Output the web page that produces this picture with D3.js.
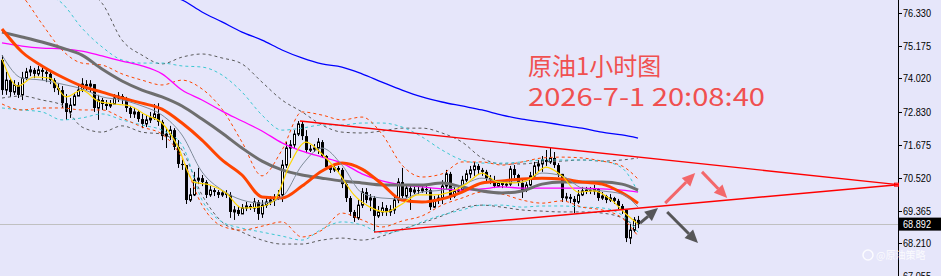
<!DOCTYPE html>
<html lang="zh">
<head>
<meta charset="UTF-8">
<title>原油1小时图</title>
<script src="https://cdnjs.cloudflare.com/ajax/libs/d3/7.8.5/d3.min.js"></script>
<style>
    body {
        margin: 0;
        background: #e6e6fa;
    }

    svg {
        display: block;
    }
</style>
</head>
<body>
<svg id="chart" width="941" height="276"></svg>
<script>
    // hourly candles, open = previous close
    const firstOpen = 74.67;
    const closes = [
        73.61, 73.96, 73.54, 73.79, 73.44, 74.03, 74.25, 74.32, 74.18, 74.32,
        74.25, 74.18, 73.96, 73.68, 73.61, 73.15, 72.84, 73.08, 73.40, 73.61,
        73.82, 73.75, 73.82, 72.98, 73.26, 73.12, 73.05, 73.12, 73.33, 73.40,
        73.33, 72.98, 72.77, 72.84, 72.59, 72.42, 72.56, 72.63, 72.77, 72.49,
        71.99, 72.06, 72.20, 71.61, 71.01, 70.97, 69.74, 69.92, 70.44, 70.51,
        70.37, 69.92, 70.09, 70.02, 69.92, 69.99, 69.92, 69.32, 69.39, 69.25,
        69.46, 69.53, 69.46, 69.67, 69.25, 69.56, 69.67, 69.74, 69.81, 69.92,
        70.97, 71.57, 71.68, 72.06, 72.42, 71.99, 71.50, 71.53, 71.57, 71.78,
        71.29, 70.90, 70.80, 70.87, 70.80, 70.30, 69.81, 69.32, 69.11, 69.56,
        70.02, 69.74, 69.81, 69.18, 69.32, 69.46, 69.32, 69.39, 69.74, 70.37,
        69.88, 70.16, 70.02, 70.09, 70.06, 70.13, 70.09, 69.49, 69.74, 69.81,
        70.23, 70.66, 69.88, 70.06, 70.09, 70.44, 70.66, 70.80, 70.94, 70.80,
        70.73, 70.51, 70.44, 70.23, 70.34, 70.27, 70.30, 70.83, 70.62, 70.34,
        70.09, 70.27, 70.59, 70.94, 71.01, 71.15, 71.08, 71.22, 70.97, 70.66,
        69.81, 69.85, 69.78, 69.67, 69.92, 70.06, 70.09, 70.06, 70.13, 69.81,
        69.88, 69.74, 69.81, 69.71, 69.53, 69.39, 68.40, 68.68, 69.04, 68.89
    ];
    const highs = [
        74.84, 74.25, 74.03, 73.96, 73.89, 74.25, 74.39, 74.46, 74.39, 74.46,
        74.39, 74.32, 74.25, 74.03, 73.86, 73.75, 73.47, 73.33, 73.51, 73.75,
        74.03, 73.96, 73.96, 73.82, 73.44, 73.33, 73.26, 73.26, 73.47, 73.54,
        73.47, 73.37, 73.05, 72.98, 72.91, 72.77, 72.73, 72.84, 73.12, 73.15,
        72.56, 72.27, 72.35, 72.27, 71.85, 71.15, 70.97, 70.16, 70.73, 70.87,
        70.62, 70.44, 70.23, 70.16, 70.09, 70.09, 70.09, 70.02, 69.53, 69.53,
        69.60, 69.67, 69.60, 69.81, 69.74, 69.74, 69.81, 69.88, 69.95, 70.09,
        71.15, 71.78, 71.85, 72.20, 72.52, 72.49, 72.20, 71.68, 71.71, 71.92,
        71.85, 71.32, 70.97, 71.01, 70.94, 70.87, 70.37, 69.88, 69.39, 69.74,
        70.16, 70.16, 69.95, 69.88, 69.53, 69.67, 69.56, 69.56, 69.88, 70.51,
        70.87, 70.30, 70.27, 70.20, 70.20, 70.23, 70.23, 70.16, 69.88, 69.95,
        70.44, 70.80, 70.73, 70.20, 70.23, 70.59, 70.80, 70.94, 71.08, 71.01,
        70.87, 70.80, 70.62, 70.59, 70.44, 70.41, 70.44, 70.94, 70.97, 70.66,
        70.44, 70.37, 70.73, 71.08, 71.15, 71.29, 71.50, 71.57, 71.43, 71.04,
        70.66, 69.99, 69.95, 69.88, 70.09, 70.20, 70.20, 70.20, 70.27, 70.16,
        70.02, 69.92, 69.95, 69.85, 69.78, 69.60, 69.39, 68.90, 69.14, 69.18
    ];
    const lows = [
        73.44, 73.44, 73.37, 73.44, 73.33, 73.26, 73.96, 74.10, 74.03, 74.10,
        73.96, 73.89, 73.82, 73.54, 73.44, 72.98, 72.56, 72.63, 73.05, 73.40,
        73.54, 73.61, 73.54, 72.84, 72.56, 72.91, 72.91, 72.98, 73.12, 73.19,
        73.12, 72.84, 72.63, 72.63, 72.49, 72.27, 72.31, 72.45, 72.56, 72.35,
        71.85, 71.57, 71.85, 71.50, 70.87, 70.80, 69.60, 69.67, 69.88, 70.30,
        70.23, 69.81, 69.85, 69.88, 69.81, 69.85, 69.81, 69.11, 69.04, 69.18,
        69.25, 69.35, 69.39, 69.32, 69.04, 69.11, 69.46, 69.56, 69.53, 69.74,
        69.67, 70.87, 71.22, 71.57, 71.99, 71.85, 71.39, 71.43, 71.43, 71.36,
        71.22, 70.80, 70.69, 70.73, 70.69, 70.16, 69.67, 69.18, 68.97, 69.04,
        69.46, 69.63, 69.35, 68.61, 69.11, 69.18, 69.18, 69.18, 69.25, 69.63,
        69.81, 69.81, 69.39, 69.95, 69.95, 69.99, 69.95, 69.39, 69.46, 69.60,
        69.60, 70.09, 69.74, 69.81, 69.99, 70.02, 70.37, 70.51, 70.59, 70.66,
        70.59, 70.41, 70.30, 70.16, 70.20, 70.16, 70.20, 70.23, 70.51, 70.23,
        69.81, 70.02, 70.23, 70.51, 70.73, 70.73, 70.94, 71.01, 70.87, 70.55,
        69.67, 69.71, 69.63, 69.28, 69.60, 69.88, 69.95, 69.95, 69.92, 69.71,
        69.74, 69.63, 69.67, 69.60, 69.42, 69.25, 68.26, 68.19, 68.61, 68.75
    ];

    // indicator readings, every 5th bar (last one = bar 159)
    const bars5 = [0, 5, 10, 15, 20, 25, 30, 35, 40, 45, 50, 55, 60, 65, 70, 75, 80,
        85, 90, 95, 100, 105, 110, 115, 120, 125, 130, 135, 140, 145, 150, 155, 159];
    const maOrange = [75.76, 74.95, 74.46, 74.07, 73.75, 73.54, 73.33, 73.15, 72.94, 72.45, 71.85,
        71.15, 70.62, 69.85, 69.81, 70.23, 70.76, 71.04, 70.83, 70.30, 69.74, 69.67, 69.78,
        70.02, 70.34, 70.41, 70.48, 70.51, 70.48, 70.37, 70.30, 69.99, 69.63];
    const maGrayThick = [75.65, 75.48, 75.30, 75.09, 74.84, 74.35, 73.93, 73.61, 73.37, 73.05, 72.59,
        72.10, 71.57, 71.11, 70.80, 70.62, 70.51, 70.41, 70.34, 70.27, 70.27, 70.27, 70.34,
        70.20, 70.06, 69.99, 70.06, 70.30, 70.37, 70.37, 70.37, 70.30, 70.09];
    const maMagenta = [75.27, 75.16, 75.09, 75.06, 74.98, 74.81, 74.63, 74.46, 74.18, 73.61, 73.26,
        72.87, 72.52, 72.17, 71.75, 71.46, 71.25, 71.04, 70.66, 70.41, 70.27, 70.20, 70.13,
        70.09, 70.13, 70.20, 70.16, 70.16, 70.16, 70.16, 70.13, 70.09, 70.02];
    const maGrayThin = [74.84, 74.03, 73.96, 73.82, 73.65, 73.37, 73.26, 73.05, 72.73, 72.03, 70.73,
        70.09, 69.74, 69.63, 69.85, 70.97, 71.57, 70.97, 69.99, 69.81, 69.78, 70.02, 70.09,
        70.27, 70.51, 70.37, 70.37, 70.69, 70.59, 70.16, 70.06, 69.95, 69.49];

    const orangeUp = [77.41, 76.92, 75.94, 75.02, 74.56, 74.49, 74.18, 73.96, 73.79, 73.96, 73.65,
        72.94, 71.78, 70.59, 71.50, 72.84, 72.73, 72.56, 72.66, 72.06, 70.97, 70.55, 70.66,
        71.08, 71.08, 70.97, 71.08, 71.22, 71.25, 71.22, 71.11, 70.94, 70.48];
    const orangeDn = [73.12, 72.91, 72.98, 72.98, 72.91, 72.91, 72.63, 72.31, 72.06, 71.22, 69.56,
        68.82, 68.68, 68.82, 68.97, 68.44, 68.68, 69.28, 69.04, 68.79, 69.00, 69.18, 69.56,
        69.81, 70.02, 69.95, 69.74, 69.63, 69.71, 69.49, 69.39, 69.11, 68.47];
    const cyanUp = [78.19, 77.48, 77.06, 76.67, 75.79, 75.13, 74.67, 74.56, 74.56, 74.46, 74.42,
        74.14, 73.54, 72.73, 72.20, 72.27, 72.38, 72.38, 72.45, 72.45, 72.31, 71.96, 71.50,
        71.15, 71.04, 71.04, 71.08, 71.15, 71.15, 71.15, 71.11, 70.87, 70.02];
    const cyanDn = [72.98, 72.91, 72.84, 72.56, 72.63, 72.77, 72.56, 72.38, 72.20, 71.68, 69.74,
        68.97, 68.75, 68.61, 68.47, 68.33, 68.72, 68.97, 68.86, 68.58, 68.68, 68.97, 69.21,
        69.39, 69.56, 69.56, 69.49, 69.53, 69.53, 69.49, 69.46, 69.21, 68.61];
    const grayUp = [78.89, 78.19, 77.66, 77.31, 77.13, 76.67, 75.37, 74.84, 74.53, 74.77, 74.88,
        74.74, 74.53, 73.89, 73.26, 72.84, 72.38, 72.13, 72.10, 72.17, 72.27, 72.27, 72.10,
        71.78, 71.22, 71.01, 71.01, 71.08, 71.11, 71.15, 71.11, 71.15, 71.22];
    const grayDn = [73.33, 73.40, 73.26, 73.08, 72.31, 72.13, 72.35, 72.13, 72.06, 71.50, 69.92,
        68.97, 68.61, 68.33, 68.19, 68.19, 68.33, 68.40, 68.33, 68.47, 68.72, 68.93, 69.18,
        69.46, 69.56, 69.49, 69.39, 69.35, 69.32, 69.32, 69.28, 69.11, 68.75];

    // fast average, every 4th bar
    const bars4 = [0, 4, 8, 12, 16, 20, 24, 28, 32, 36, 40, 44, 48, 52, 56, 60, 64, 68, 72, 76,
        80, 84, 88, 92, 96, 100, 104, 108, 112, 116, 120, 124, 128, 132, 136, 140, 144, 148,
        152, 156, 159];
    const maYellow = [74.70, 73.75, 74.07, 74.03, 73.37, 73.61, 73.22, 73.12, 73.05, 72.73, 72.45,
        71.61, 70.37, 70.27, 69.99, 69.46, 69.49, 69.71, 71.01, 71.78, 71.36, 70.73, 69.92,
        69.49, 69.32, 69.60, 69.92, 69.92, 70.02, 70.30, 70.69, 70.37, 70.34, 70.48, 70.90,
        70.59, 70.02, 70.06, 69.78, 69.25, 68.90];

    // long average, from bar 40
    const barsBlue = [40, 45, 50, 55, 60, 65, 70, 75, 80, 85, 90, 95, 100, 105, 110, 115, 120,
        125, 130, 135, 140, 145, 150, 155, 159];
    const maBlue = [76.99, 76.78, 76.36, 76.01, 75.65, 75.37, 75.02, 74.74, 74.53, 74.42, 74.18,
        73.89, 73.61, 73.37, 73.19, 73.05, 72.91, 72.73, 72.59, 72.49, 72.38, 72.27, 72.13,
        72.03, 71.92];

    // triangle (bar, price)
    const lineTop = [[74.5, 72.52], [224, 70.28]];
    const lineBottom = [[93, 68.61], [224, 70.28]];

    // arrows: tail -> tip
    const arrowsGray = [[[159.5, 68.93], [164, 69.46]], [[166.3, 69.32], [174, 68.23]]];
    const arrowsPink = [[[165.8, 69.63], [173.3, 70.69]], [[175, 70.73], [181.3, 69.81]]];

    const tickLabels = ["76.330", "75.175", "74.020", "72.830", "71.675", "70.520", "69.365", "68.210", "67.055"];
    const lastPrice = 68.892;

    const svg = d3.select("#chart");
    const W = 941, H = 276, axisX = 898;

    const x = d3.scaleLinear().domain([0, 159]).range([2, 638]);
    const y = d3.scaleLinear().domain([67.055, 76.330]).range([276.3, 12.8]);

    svg.append("rect").attr("width", W).attr("height", H).attr("fill", "#e6e6fa");

    svg.append("clipPath").attr("id", "plot")
        .append("rect").attr("width", axisX).attr("height", H);

    const plot = svg.append("g").attr("clip-path", "url(#plot)");

    // bid line
    plot.append("line")
        .attr("x1", 0).attr("x2", axisX)
        .attr("y1", Math.round(y(lastPrice)) + 0.5).attr("y2", Math.round(y(lastPrice)) + 0.5)
        .attr("stroke", "#c0c0c0");

    // candles
    const candles = closes.map((c, i) => ({
        i: i, o: i === 0 ? firstOpen : closes[i - 1], c: c, h: highs[i], l: lows[i]
    }));

    const cg = plot.append("g");
    candles.forEach(d => {
        let cx = Math.round(x(d.i));
        cg.append("line")
            .attr("x1", cx + 0.5).attr("x2", cx + 0.5)
            .attr("y1", y(d.h)).attr("y2", y(d.l))
            .attr("stroke", "#000");
        let top = y(Math.max(d.o, d.c));
        let bot = y(Math.min(d.o, d.c));
        if (d.c >= d.o) {
            cg.append("rect")
                .attr("x", cx - 0.5).attr("y", top)
                .attr("width", 2).attr("height", Math.max(bot - top, 1))
                .attr("fill", "#fff").attr("stroke", "#000");
        } else {
            cg.append("rect")
                .attr("x", cx - 1).attr("y", top)
                .attr("width", 3).attr("height", Math.max(bot - top, 1))
                .attr("fill", "#000");
        }
    });

    function drawLine(bars, vals, color, width, dash) {
        let pts = bars.map((b, k) => [b, vals[k]]);
        let gen = d3.line().x(d => x(d[0])).y(d => y(d[1])).curve(d3.curveMonotoneX);
        plot.append("path")
            .attr("d", gen(pts))
            .attr("fill", "none")
            .attr("stroke", color)
            .attr("stroke-width", width)
            .attr("stroke-dasharray", dash || null);
    }

    // envelopes
    drawLine(bars5, grayUp, "#5a5a5a", 1, "3,3");
    drawLine(bars5, grayDn, "#5a5a5a", 1, "3,3");
    drawLine(bars5, cyanUp, "#3cc8d2", 1, "3,3");
    drawLine(bars5, cyanDn, "#3cc8d2", 1, "3,3");
    drawLine(bars5, orangeUp, "#ff4500", 1, "3,3");
    drawLine(bars5, orangeDn, "#ff4500", 1, "3,3");

    // averages
    drawLine(barsBlue, maBlue, "#0000ff", 1.3);
    drawLine(bars5, maMagenta, "#ff00ff", 1.3);
    drawLine(bars5, maGrayThick, "#6e6e6e", 3);
    drawLine(bars5, maOrange, "#ff4500", 3);
    drawLine(bars5, maGrayThin, "#7f8c9a", 1);
    drawLine(bars4, maYellow, "#ffd700", 1.2);

    // triangle
    [lineTop, lineBottom].forEach(seg => {
        plot.append("line")
            .attr("x1", x(seg[0][0])).attr("y1", y(seg[0][1]))
            .attr("x2", x(seg[1][0])).attr("y2", y(seg[1][1]))
            .attr("stroke", "#ff0000").attr("stroke-width", 1.4);
    });

    function arrow(seg, color) {
        let x1 = x(seg[0][0]), y1 = y(seg[0][1]);
        let x2 = x(seg[1][0]), y2 = y(seg[1][1]);
        let ang = Math.atan2(y2 - y1, x2 - x1);
        let len = 13, half = 6;
        let bx = x2 - len * Math.cos(ang), by = y2 - len * Math.sin(ang);
        plot.append("line")
            .attr("x1", x1).attr("y1", y1).attr("x2", bx).attr("y2", by)
            .attr("stroke", color).attr("stroke-width", 3);
        let px = -Math.sin(ang) * half, py = Math.cos(ang) * half;
        plot.append("path")
            .attr("d", "M" + x2 + "," + y2 + "L" + (bx + px) + "," + (by + py) + "L" + (bx - px) + "," + (by - py) + "Z")
            .attr("fill", color);
    }

    arrowsGray.forEach(a => arrow(a, "rgba(70,70,70,0.9)"));
    arrowsPink.forEach(a => arrow(a, "rgba(245,80,80,0.85)"));

    // price axis
    svg.append("line")
        .attr("x1", axisX + 0.5).attr("x2", axisX + 0.5)
        .attr("y1", 0).attr("y2", H)
        .attr("stroke", "#000");

    tickLabels.forEach(t => {
        let ty = Math.round(y(+t)) + 0.5;
        svg.append("line")
            .attr("x1", axisX).attr("x2", axisX + 4)
            .attr("y1", ty).attr("y2", ty)
            .attr("stroke", "#000");
        svg.append("text")
            .attr("x", axisX + 5).attr("y", ty)
            .attr("dy", "0.36em")
            .attr("font-family", "Liberation Sans, Arial, sans-serif")
            .attr("font-size", 10.5)
            .attr("textLength", 28).attr("lengthAdjust", "spacingAndGlyphs")
            .attr("fill", "#000")
            .text(t);
    });

    // marker where the two trend lines reach the axis
    svg.append("rect")
        .attr("x", axisX - 3.5).attr("y", y(70.28) - 1.5)
        .attr("width", 4).attr("height", 3)
        .attr("fill", "none").attr("stroke", "#ff0000");

    let ly = y(lastPrice);
    svg.append("rect")
        .attr("x", axisX + 1).attr("y", ly - 6.5)
        .attr("width", W - axisX - 1).attr("height", 13)
        .attr("fill", "#000");
    svg.append("text")
        .attr("x", axisX + 5).attr("y", ly)
        .attr("dy", "0.36em")
        .attr("font-family", "Liberation Sans, Arial, sans-serif")
        .attr("font-size", 10.5)
        .attr("textLength", 28).attr("lengthAdjust", "spacingAndGlyphs")
        .attr("fill", "#fff")
        .text(lastPrice.toFixed(3));

    // caption
    const caption = svg.append("g")
        .attr("font-family", "Noto Sans CJK SC, sans-serif")
        .attr("fill", "#f05050");
    caption.append("text").attr("x", 528).attr("y", 75)
        .attr("font-size", 24)
        .text("原油1小时图");
    caption.append("text").attr("x", 528).attr("y", 106)
        .attr("font-size", 24.5)
        .attr("textLength", 237).attr("lengthAdjust", "spacingAndGlyphs")
        .text("2026-7-1 20:08:40");

    // watermark
    svg.append("circle")
        .attr("cx", 868).attr("cy", 255).attr("r", 5)
        .attr("fill", "none").attr("stroke", "#fff").attr("stroke-width", 1.5).attr("opacity", 0.85);
    svg.append("text")
        .attr("x", 876).attr("y", 259)
        .attr("font-family", "Noto Sans CJK SC, sans-serif")
        .attr("font-size", 10)
        .attr("fill", "#ffffff").attr("opacity", 0.85)
        .text("@原油策略");
</script>
</body>
</html>
